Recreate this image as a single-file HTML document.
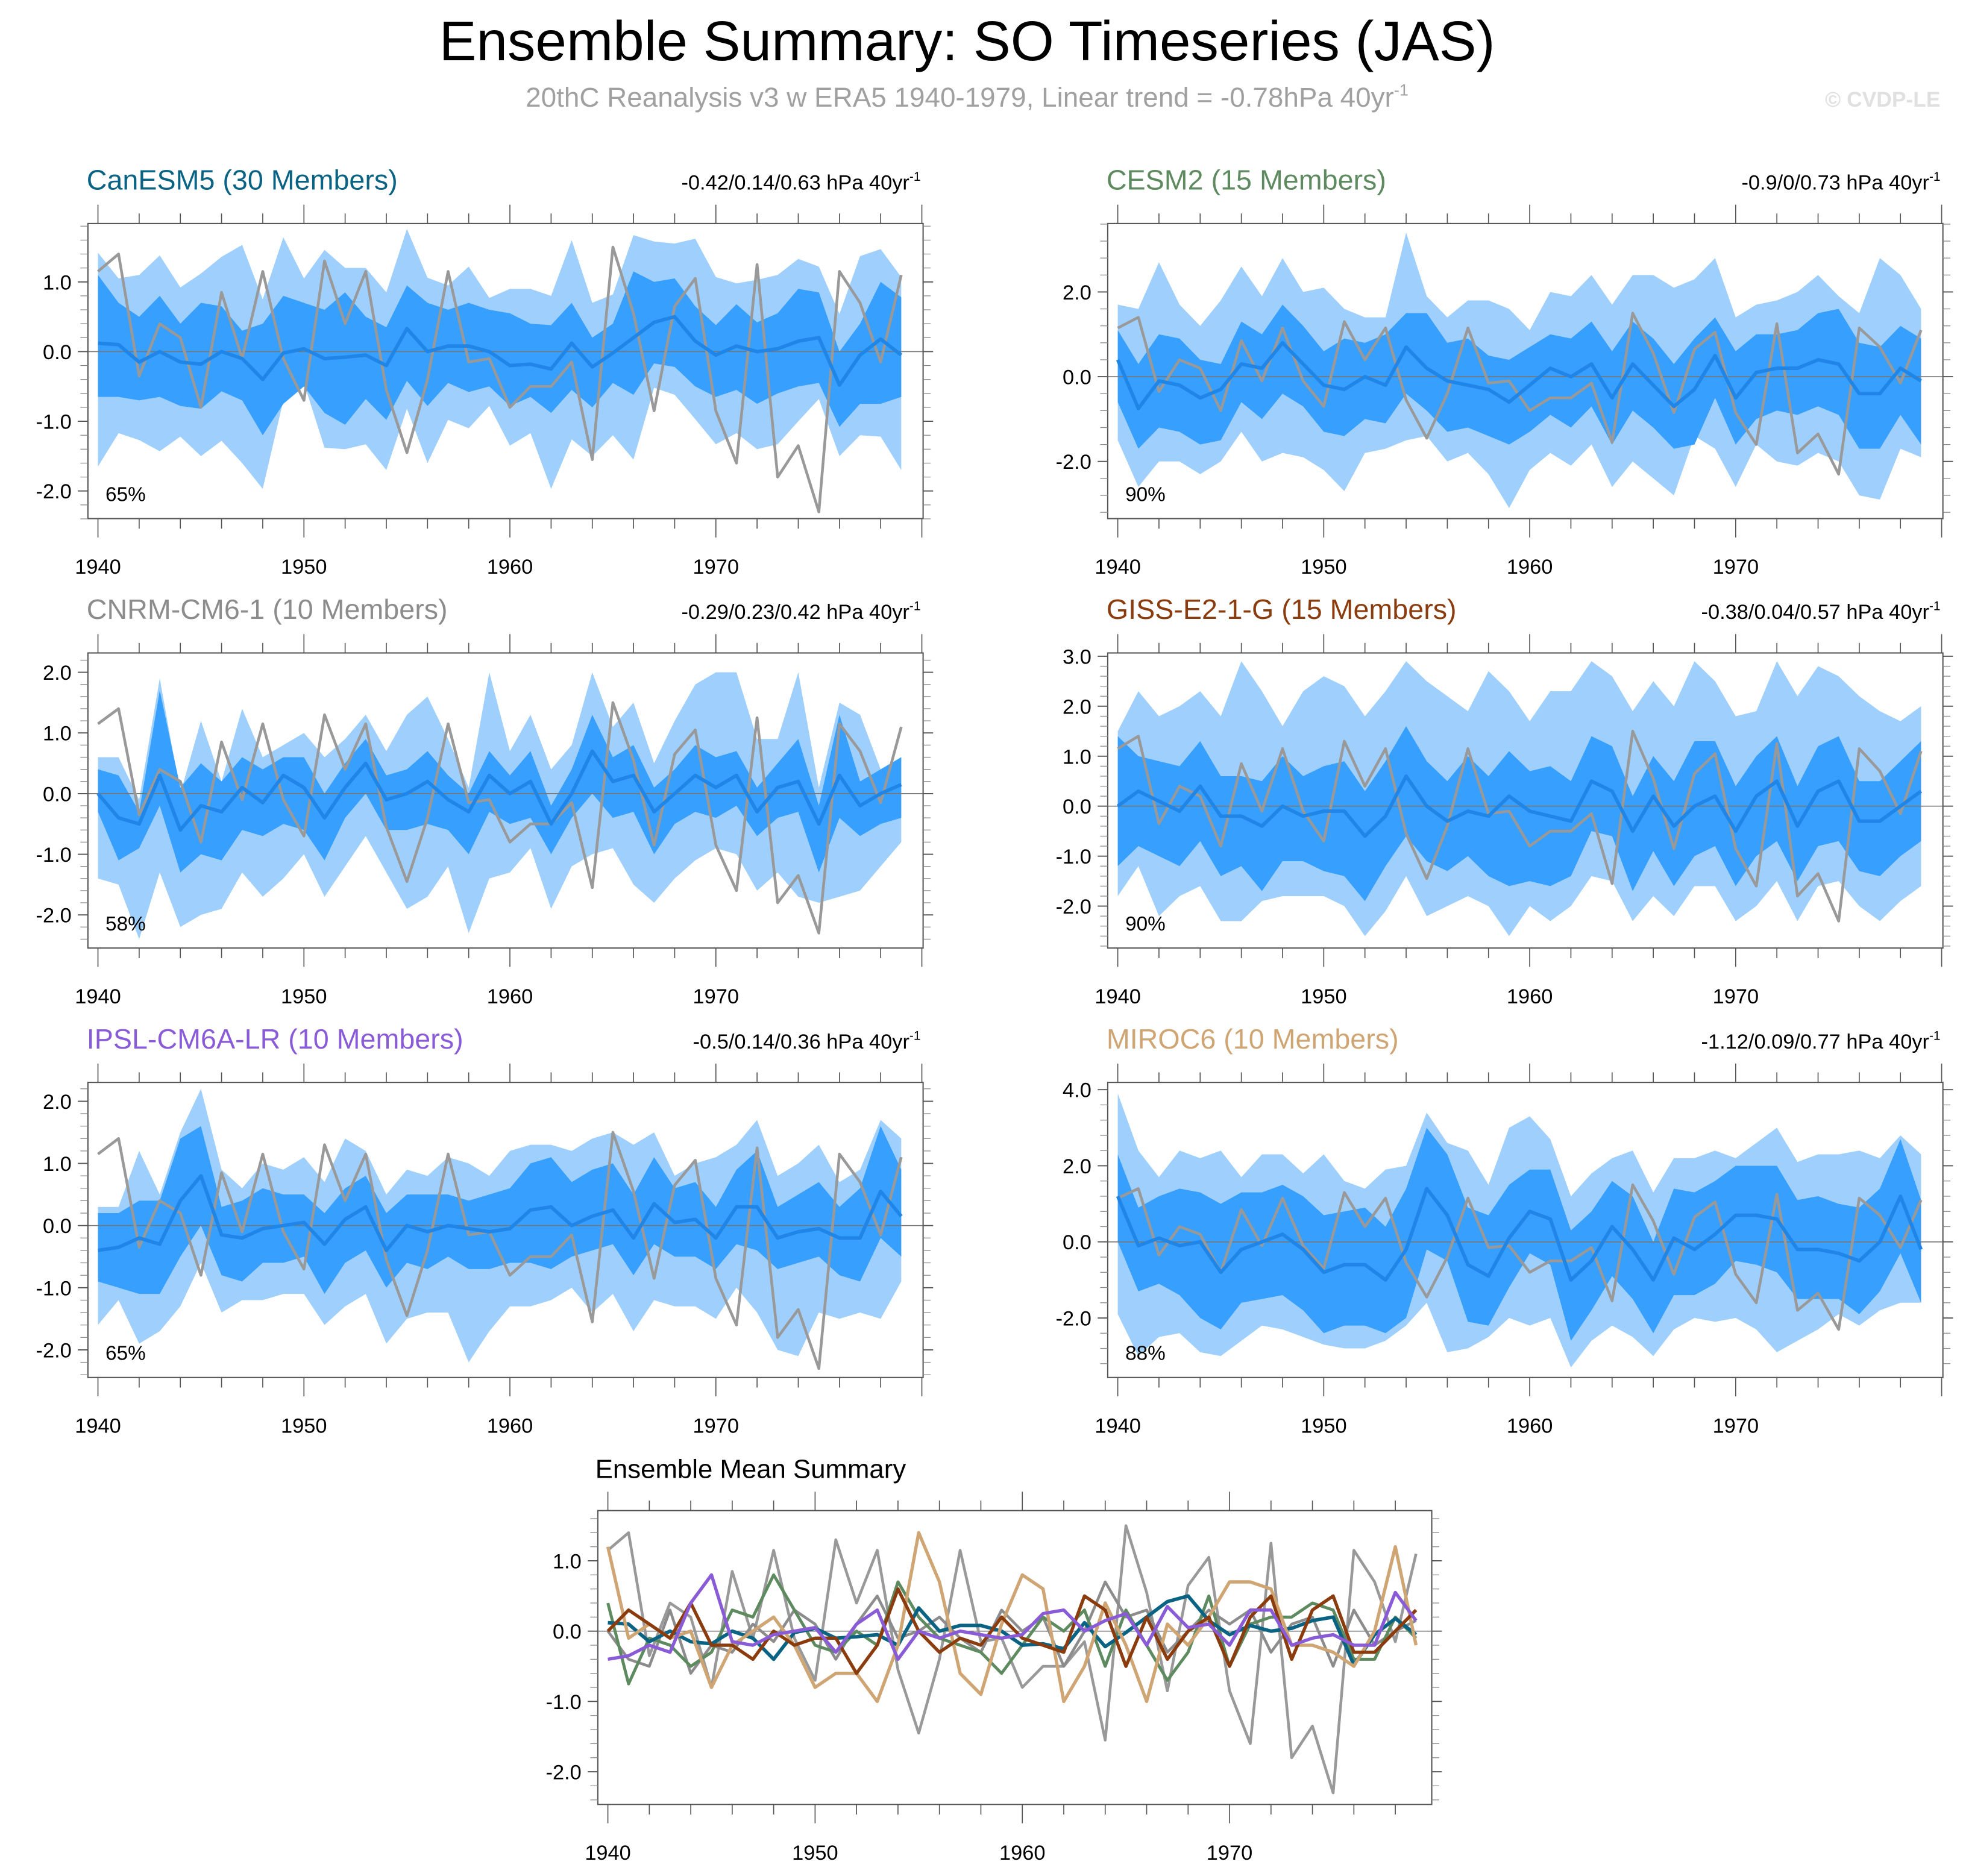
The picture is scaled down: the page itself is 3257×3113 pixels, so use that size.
<!DOCTYPE html>
<html><head><meta charset="utf-8"><style>
html,body{margin:0;padding:0;background:#fff;}
svg{display:block;font-family:"Liberation Sans",sans-serif;}
</style></head><body>
<svg id="chart" width="3257" height="3113" viewBox="0 0 1563 1494" preserveAspectRatio="none" xmlns="http://www.w3.org/2000/svg">
<text x="770" y="48" font-size="44.5" text-anchor="middle" fill="#000">Ensemble Summary: SO Timeseries (JAS)</text>
<text x="770" y="85" font-size="22" text-anchor="middle" fill="#a0a0a0">20thC Reanalysis v3 w ERA5 1940-1979, Linear trend = -0.78hPa 40yr<tspan dy="-9" font-size="13">-1</tspan></text>
<text x="1545" y="85" font-size="17" font-weight="bold" text-anchor="end" fill="#e0e0e0">© CVDP-LE</text>
<g id="plots"></g>
</svg>
<script>
const years = Array.from({length:40},(_,i)=>1940+i);
const obs = [1.15,1.4,-0.35,0.4,0.2,-0.8,0.85,-0.1,1.15,-0.1,-0.7,1.3,0.4,1.15,-0.55,-1.45,-0.4,1.15,-0.15,-0.1,-0.8,-0.5,-0.5,-0.15,-1.55,1.5,0.55,-0.85,0.65,1.05,-0.85,-1.6,1.25,-1.8,-1.35,-2.3,1.15,0.7,-0.15,1.1];

const canMean=[0.12,0.1,-0.15,0,-0.15,-0.18,0,-0.1,-0.4,-0.02,0.04,-0.1,-0.08,-0.05,-0.2,0.33,0,0.08,0.08,0,-0.2,-0.18,-0.25,0.12,-0.22,-0.02,0.2,0.42,0.5,0.15,-0.05,0.08,0,0.04,0.15,0.2,-0.48,-0.05,0.18,-0.05];
const canInHi=[1.1,0.7,0.5,0.8,0.4,0.7,0.65,0.3,0.4,0.8,0.7,0.6,0.85,0.5,0.35,0.95,0.7,0.6,0.7,0.6,0.55,0.4,0.38,0.7,0.2,0.4,1.15,1.0,1.05,0.65,0.38,0.68,0.42,0.55,0.9,0.85,0,0.4,1.0,0.78];
const canInLo=[-0.65,-0.65,-0.7,-0.65,-0.78,-0.82,-0.57,-0.7,-1.2,-0.75,-0.5,-0.88,-1.05,-0.68,-0.98,-0.42,-0.78,-0.45,-0.58,-0.5,-0.78,-0.65,-0.88,-0.55,-0.8,-0.45,-0.62,-0.17,-0.22,-0.5,-0.65,-0.55,-0.75,-0.6,-0.5,-0.45,-1.08,-0.75,-0.75,-0.65];
const canOutHi=[1.42,1.05,1.1,1.38,0.92,1.12,1.36,1.53,0.75,1.64,1.05,1.46,1.2,1.2,0.85,1.76,1.06,0.95,1.22,0.77,0.9,0.9,0.8,1.6,0.7,0.82,1.67,1.58,1.55,1.62,1.07,0.98,1.03,1.1,1.33,1.22,0.54,1.37,1.47,1.07];
const canOutLo=[-1.65,-1.17,-1.27,-1.43,-1.22,-1.5,-1.28,-1.6,-1.97,-0.7,-0.45,-1.38,-1.4,-1.33,-1.7,-0.82,-1.6,-0.98,-1.1,-0.78,-1.35,-1.17,-1.97,-1.26,-1.5,-1.2,-1.55,-0.52,-0.62,-0.97,-1.33,-1.17,-1.4,-1.33,-1.0,-0.68,-1.5,-1.2,-1.22,-1.7];

const cesMean=[0.4,-0.75,-0.1,-0.2,-0.5,-0.3,0.3,0.2,0.8,0.3,-0.2,-0.3,0,-0.2,0.7,0.2,-0.1,-0.2,-0.3,-0.6,-0.2,0.2,0,0.3,-0.5,0.3,-0.2,-0.7,-0.3,0.5,-0.5,0.1,0.2,0.2,0.4,0.3,-0.4,-0.4,0.2,-0.1];
const cesInHi=[1.1,0.3,1.0,0.9,0.4,0.3,1.3,1.0,1.7,1.2,0.6,0.9,0.8,1.0,1.5,1.5,0.8,0.9,0.5,0.4,0.7,1.0,0.9,1.3,0.6,1.3,0.9,0.3,0.9,1.4,0.6,1.0,1.0,1.1,1.5,1.6,0.8,0.7,1.2,0.9];
const cesInLo=[-0.6,-1.7,-1.2,-1.3,-1.6,-1.5,-0.6,-1.0,-0.4,-0.7,-1.3,-1.4,-1.0,-1.1,-0.4,-0.8,-1.3,-1.2,-1.4,-1.6,-1.3,-0.9,-1.2,-0.7,-1.6,-0.8,-1.2,-1.7,-1.6,-0.5,-1.6,-1.0,-0.8,-0.9,-0.7,-0.9,-1.7,-1.7,-0.9,-1.6];
const cesOutHi=[1.7,1.6,2.7,1.7,1.2,1.8,2.6,1.9,2.8,2.0,2.1,1.6,1.4,1.4,3.4,1.9,1.4,1.8,1.8,1.6,1.1,2.0,1.9,2.4,1.7,2.4,2.4,2.1,2.3,2.8,1.4,1.7,1.8,2.0,2.4,1.9,1.5,2.8,2.4,1.6];
const cesOutLo=[-1.5,-2.6,-2.0,-2.0,-2.3,-2.0,-1.3,-2.0,-1.8,-1.9,-2.2,-2.7,-1.8,-1.7,-1.5,-1.4,-2.0,-1.8,-2.3,-3.1,-2.2,-1.8,-2.1,-1.6,-2.6,-2.0,-2.4,-2.8,-1.4,-1.7,-2.6,-1.6,-2.0,-2.1,-1.8,-2.0,-2.8,-2.9,-1.7,-1.9];

const cnrMean=[0,-0.4,-0.5,0.3,-0.6,-0.2,-0.3,0.1,-0.15,0.3,0.1,-0.4,0.1,0.5,-0.1,0,0.2,-0.1,-0.3,0.3,0,0.2,-0.5,0,0.7,0.2,0.3,-0.3,0,0.3,0.1,0.3,-0.3,0.1,0.2,-0.5,0.3,-0.2,0,0.15];
const cnrInHi=[0.4,0.3,-0.3,1.7,0.1,0.5,0.2,0.6,0.4,0.6,0.6,0.0,0.5,0.9,0.3,0.4,0.7,0.3,0,0.7,0.3,0.7,-0.2,0.4,1.3,0.6,0.8,0.1,0.4,0.8,0.6,0.7,0.1,0.5,0.9,-0.2,1.3,0.2,0.4,0.6];
const cnrInLo=[-0.3,-1.1,-0.9,-0.2,-1.3,-1.0,-1.1,-0.6,-0.7,-0.5,-0.6,-1.1,-0.4,0,-0.6,-0.6,-0.5,-0.6,-1.0,-0.3,-0.5,-0.4,-1.0,-0.4,0,-0.4,-0.3,-1.0,-0.5,-0.3,-0.4,-0.2,-0.7,-0.4,-0.3,-1.3,-0.4,-0.7,-0.5,-0.4];
const cnrOutHi=[0.6,0.6,-0.1,1.9,0,1.2,0.2,1.4,0.6,0.8,1.0,0.6,0.9,1.3,0.7,1.3,1.6,0.9,0.1,2.0,0.7,1.3,0.4,0.8,2.0,1.1,1.5,0.5,1.2,1.8,2.0,2.0,0.9,0.9,2.0,0.1,1.5,1.3,0.4,0.6];
const cnrOutLo=[-1.4,-1.5,-2.4,-1.3,-2.2,-2.0,-1.9,-1.3,-1.7,-1.4,-1.0,-1.7,-1.2,-0.7,-1.3,-1.9,-1.7,-1.2,-2.3,-1.4,-1.3,-0.9,-1.9,-1.2,-1.0,-0.9,-1.5,-1.8,-1.4,-1.1,-0.9,-1.0,-1.6,-1.3,-1.7,-1.8,-1.7,-1.6,-1.2,-0.8];

const gisMean=[0,0.3,0.1,-0.1,0.4,-0.2,-0.2,-0.4,0,-0.2,-0.1,-0.1,-0.6,-0.2,0.6,0,-0.3,-0.1,-0.2,0.2,-0.1,-0.2,-0.3,0.5,0.3,-0.5,0.2,-0.4,0,0.2,-0.5,0.2,0.5,-0.4,0.3,0.5,-0.3,-0.3,0,0.3];
const gisInHi=[1.4,1.0,0.9,0.8,1.3,0.6,0.6,0.5,1.0,0.6,0.8,0.9,0.3,0.9,1.6,0.9,0.5,1.0,0.6,1.1,0.7,0.8,0.5,1.4,1.2,0.2,1.0,0.5,1.3,1.3,0.4,1.0,1.4,0.4,1.2,1.4,0.5,0.5,0.9,1.3];
const gisInLo=[-1.2,-0.8,-1.0,-1.2,-0.7,-1.4,-1.2,-1.7,-1.1,-1.1,-1.3,-1.4,-1.9,-1.2,-0.6,-1.1,-1.3,-1.0,-1.4,-1.6,-1.5,-1.6,-1.4,-0.5,-0.6,-1.7,-0.9,-1.6,-1.0,-0.8,-1.6,-1.0,-0.7,-1.5,-0.8,-0.7,-1.3,-1.4,-1.0,-0.7];
const gisOutHi=[1.5,2.3,1.8,2.0,2.3,1.8,2.9,2.3,1.6,2.3,2.6,2.4,1.8,2.3,2.9,2.5,2.2,1.9,2.7,2.3,1.7,2.3,2.3,2.9,2.6,1.9,2.5,2.0,2.9,2.5,1.8,1.9,2.9,2.2,2.8,2.6,2.2,1.9,1.7,2.0];
const gisOutLo=[-1.8,-1.2,-2.2,-1.8,-1.6,-2.3,-2.3,-1.9,-1.8,-1.8,-1.8,-2.0,-2.6,-2.1,-1.4,-2.2,-2.0,-1.8,-2.0,-2.6,-2.0,-2.3,-2.0,-1.4,-1.5,-2.3,-1.8,-2.2,-1.6,-1.6,-2.3,-2.0,-1.5,-2.3,-1.6,-1.5,-2.0,-2.3,-1.9,-1.6];

const ipsMean=[-0.4,-0.35,-0.2,-0.3,0.4,0.8,-0.15,-0.2,-0.05,0,0.05,-0.3,0.1,0.3,-0.4,0,-0.1,0,-0.05,-0.1,-0.05,0.25,0.3,0,0.15,0.25,-0.2,0.35,0.05,0.1,-0.2,0.3,0.3,-0.2,-0.1,-0.05,-0.2,-0.2,0.55,0.15];
const ipsInHi=[0.2,0.2,0.4,0.4,1.4,1.6,0.3,0.4,0.6,0.5,0.5,0.2,0.6,0.8,0.2,0.5,0.5,0.5,0.4,0.5,0.6,1.0,1.1,0.7,0.9,1.0,0.5,1.1,0.6,0.7,0.3,0.9,1.2,0.3,0.5,0.7,0.3,0.6,1.6,0.9];
const ipsInLo=[-0.9,-1.0,-1.1,-1.1,-0.5,0,-0.8,-0.9,-0.6,-0.6,-0.5,-1.1,-0.6,-0.4,-1.0,-0.6,-0.7,-0.5,-0.7,-0.7,-0.6,-0.6,-0.7,-0.5,-0.4,-0.3,-0.8,-0.3,-0.5,-0.5,-0.7,-0.3,-0.4,-0.7,-0.6,-0.5,-0.8,-0.9,-0.2,-0.5];
const ipsOutHi=[0.3,0.3,1.2,0.5,1.5,2.2,0.9,0.6,1.0,0.9,1.1,0.7,1.4,1.2,0.5,0.9,0.8,1.1,1.0,0.8,1.2,1.3,1.3,1.2,1.4,1.5,1.3,1.5,0.8,1.0,1.1,1.3,1.7,0.8,1.0,1.3,0.7,0.9,1.7,1.4];
const ipsOutLo=[-1.6,-1.2,-1.9,-1.7,-1.3,-0.6,-1.4,-1.2,-1.2,-1.1,-1.1,-1.6,-1.3,-1.1,-1.9,-1.5,-1.4,-1.4,-2.2,-1.7,-1.3,-1.3,-1.2,-1.0,-1.4,-1.1,-1.7,-1.2,-1.3,-1.3,-1.5,-1.0,-1.4,-2.0,-2.1,-1.4,-1.5,-1.4,-1.5,-0.9];

const mirMean=[1.2,-0.1,0.1,-0.1,0,-0.8,-0.2,0,0.2,-0.2,-0.8,-0.6,-0.6,-1,-0.2,1.4,0.7,-0.6,-0.9,0.1,0.8,0.6,-1.0,-0.5,0.4,-0.2,-1.0,0.1,-0.2,0.2,0.7,0.7,0.6,-0.2,-0.2,-0.3,-0.5,0,1.2,-0.2];
const mirInHi=[2.3,0.9,1.2,1.4,1.3,1.0,1.3,1.3,1.5,1.2,0.7,0.8,0.9,0.4,1.4,3.0,2.3,0.9,0.7,1.5,1.9,1.9,0.3,0.8,1.6,1.2,0,1.4,1.3,1.6,2.0,2.0,2.0,1.1,1.2,1.0,0.9,1.4,2.7,1.1];
const mirInLo=[0,-1.3,-1.1,-1.4,-2.0,-2.3,-1.6,-1.5,-1.4,-1.8,-2.4,-2.2,-2.2,-2.4,-2.0,-0.2,-0.5,-2.1,-2.2,-1.2,-0.3,-0.6,-2.6,-1.8,-0.9,-1.5,-2.4,-1.4,-1.4,-1.1,-0.5,-0.6,-0.8,-1.5,-1.5,-1.5,-1.9,-1.3,-0.3,-1.6];
const mirOutHi=[3.9,2.4,1.7,2.4,2.2,2.4,1.7,2.3,2.3,1.8,2.3,1.6,1.4,1.9,2.0,3.4,2.6,2.4,1.5,3.0,3.3,2.7,1.2,1.8,2.2,2.4,1.3,2.2,2.2,2.4,2.2,2.6,3.0,2.1,2.3,2.3,2.4,2.2,2.8,2.3];
const mirOutLo=[-1.9,-3.0,-2.5,-2.4,-2.9,-3.0,-2.6,-2.2,-2.3,-2.5,-2.7,-2.8,-2.8,-2.6,-2.2,-1.6,-2.9,-2.8,-2.5,-2.0,-2.2,-2.0,-3.3,-2.6,-2.2,-2.5,-3.0,-2.3,-2.0,-2.1,-2.0,-2.3,-2.9,-2.6,-2.3,-1.9,-2.2,-1.8,-1.6,-1.6];

const xTickLabels=[1940,1950,1960,1970];
const yTicks1=[1.0,0.0,-1.0,-2.0];
const yTicks2=[2.0,0.0,-2.0];
const yTicks3=[2.0,1.0,0.0,-1.0,-2.0];
const yTicks4=[3.0,2.0,1.0,0.0,-1.0,-2.0];
const yTicks5=[2.0,1.0,0.0,-1.0,-2.0];
const yTicks6=[4.0,2.0,0.0,-2.0];
const yTicksM=[1.0,0.0,-1.0,-2.0];

const NS='http://www.w3.org/2000/svg';
const root=document.getElementById('plots');
function mk(tag,attrs,parent){const e=document.createElementNS(NS,tag);for(const k in attrs)e.setAttribute(k,attrs[k]);(parent||root).appendChild(e);return e;}

const panels=[
 {name:'canesm5',title:'CanESM5 (30 Members)',col:'#0b6384',trend:'-0.42/0.14/0.63 hPa 40yr',pct:'65%',bx:70,by:178,y0:280,ys:55.5,ymin:-2.6,ymax:1.8,minor:0.2,ticks:yTicks1,m:canMean,ih:canInHi,il:canInLo,oh:canOutHi,ol:canOutLo},
 {name:'cesm2',title:'CESM2 (15 Members)',col:'#5e8a60',trend:'-0.9/0/0.73 hPa 40yr',pct:'90%',bx:882,by:178,y0:300,ys:33.75,ymin:-3.4,ymax:3.6,minor:0.4,ticks:yTicks2,m:cesMean,ih:cesInHi,il:cesInLo,oh:cesOutHi,ol:cesOutLo},
 {name:'cnrm-cm6-1',title:'CNRM-CM6-1 (10 Members)',col:'#8c8c8c',trend:'-0.29/0.23/0.42 hPa 40yr',pct:'58%',bx:70,by:520,y0:632,ys:48.3,ymin:-2.6,ymax:2.4,minor:0.2,ticks:yTicks3,m:cnrMean,ih:cnrInHi,il:cnrInLo,oh:cnrOutHi,ol:cnrOutLo},
 {name:'giss-e2-1-g',title:'GISS-E2-1-G (15 Members)',col:'#8b3c0e',trend:'-0.38/0.04/0.57 hPa 40yr',pct:'90%',bx:882,by:520,y0:642,ys:39.8,ymin:-2.8,ymax:3.0,minor:0.2,ticks:yTicks4,m:gisMean,ih:gisInHi,il:gisInLo,oh:gisOutHi,ol:gisOutLo},
 {name:'ipsl-cm6a-lr',title:'IPSL-CM6A-LR (10 Members)',col:'#8a5bd6',trend:'-0.5/0.14/0.36 hPa 40yr',pct:'65%',bx:70,by:862,y0:976,ys:49.5,ymin:-2.4,ymax:2.2,minor:0.2,ticks:yTicks5,m:ipsMean,ih:ipsInHi,il:ipsInLo,oh:ipsOutHi,ol:ipsOutLo},
 {name:'miroc6',title:'MIROC6 (10 Members)',col:'#cfa574',trend:'-1.12/0.09/0.77 hPa 40yr',pct:'88%',bx:882,by:862,y0:989,ys:30.3,ymin:-3.6,ymax:4.0,minor:0.4,ticks:yTicks6,m:mirMean,ih:mirInHi,il:mirInLo,oh:mirOutHi,ol:mirOutLo},
];
const W=665,H=235;

function axes(g,bx,by,w,h,x,y,y0,ticks,minor,ymin,ymax,fs){
  const box=mk('rect',{x:bx,y:by,width:w,height:h,fill:'none',stroke:'#555','stroke-width':1},g);
  
  
  for(let yr=1940;yr<=1980;yr+=2){const px=x(yr);if(px>bx+w)break;const maj=yr%10===0;const L=maj?15:8;
    mk('line',{x1:px,x2:px,y1:by+h,y2:by+h+L,stroke:'#555','stroke-width':0.8},g);
    mk('line',{x1:px,x2:px,y1:by,y2:by-L,stroke:'#555','stroke-width':0.8},g);}
  const n0=Math.ceil(ymin/minor-1e-6),n1=Math.floor(ymax/minor+1e-6);
  for(let k=n0;k<=n1;k++){const v=k*minor;const py=y(v);if(py<by-0.5||py>by+h+0.5)continue;
    mk('line',{x1:bx,x2:bx-6,y1:py,y2:py,stroke:'#888','stroke-width':0.6},g);
    mk('line',{x1:bx+w,x2:bx+w+6,y1:py,y2:py,stroke:'#888','stroke-width':0.6},g);}
  ticks.forEach(v=>{const py=y(v);
    mk('line',{x1:bx,x2:bx-8,y1:py,y2:py,stroke:'#555','stroke-width':0.9},g);
    mk('line',{x1:bx+w,x2:bx+w+8,y1:py,y2:py,stroke:'#555','stroke-width':0.9},g);
    const t=mk('text',{x:bx-13,y:py+6,'font-size':fs,'text-anchor':'end',fill:'#000'},g);t.textContent=v.toFixed(1);
    
    });
  xTickLabels.forEach(yr=>{const t=mk('text',{x:x(yr),y:by+h+44,'font-size':fs,'text-anchor':'middle',fill:'#000'},g);t.textContent=yr;
    
    });
}
function band(g,x,y,hi,lo,fill,nm){
  let d='M'+years.map((yr,i)=>x(yr)+','+y(hi[i])).join('L');
  for(let i=39;i>=0;i--)d+='L'+x(years[i])+','+y(lo[i]);
  const p=mk('path',{d:d+'Z',fill:fill},g);
  
  
}
function line(g,x,y,vals,col,w,nm){
  const p=mk('polyline',{points:years.map((yr,i)=>x(yr)+','+y(vals[i])).join(' '),fill:'none',stroke:col,'stroke-width':w,'stroke-linejoin':'round'},g);
  
  
}

panels.forEach(P=>{
  const g=mk('g',{});
  
  
  const x=yr=>P.bx+8+(yr-1940)*16.4;
  const y=v=>P.y0-v*P.ys;
  band(g,x,y,P.oh,P.ol,'#9fd0fd','outer-spread-band');
  band(g,x,y,P.ih,P.il,'#379ffd','inner-spread-band');
  const z=mk('line',{x1:P.bx,x2:P.bx+W,y1:y(0),y2:y(0),stroke:'#777','stroke-width':0.8},g);
  
  
  line(g,x,y,obs,'#999999',2.2,'observed-line');
  line(g,x,y,P.m,'#1f86e8',2.8,'ensemble-mean-line');
  axes(g,P.bx,P.by,W,H,x,y,P.y0,P.ticks,P.minor,P.ymin,P.ymax,16.5);
  const t=mk('text',{x:P.bx-1,y:P.by-27,'font-size':22.4,fill:P.col},g);t.textContent=P.title;
  
  
  const tr=mk('text',{x:P.bx+W-2,y:P.by-27,'font-size':16.5,'text-anchor':'end',fill:'#000'},g);tr.textContent=P.trend;
  const sp=mk('tspan',{dy:-7,'font-size':10},tr);sp.textContent='-1';
  
  
  const pc=mk('text',{x:P.bx+14,y:P.by+H-14,'font-size':16,fill:'#000'},g);pc.textContent=P.pct;
  
  
});

(function(){
  const g=mk('g',{});
  
  
  const bx=476,by=1203,w=664,h=234;
  const x=yr=>bx+8+(yr-1940)*16.5;
  const y=v=>1299-v*56;
  const z=mk('line',{x1:bx,x2:bx+w,y1:y(0),y2:y(0),stroke:'#777','stroke-width':0.8},g);
  
  
  line(g,x,y,obs,'#999999',2.2,'observed-line');
  line(g,x,y,cnrMean,'#8c8c8c',2.2,'cnrm-mean-line');
  line(g,x,y,cesMean,'#5e8a60',2.4,'cesm2-mean-line');
  line(g,x,y,canMean,'#0b6384',2.8,'canesm5-mean-line');
  line(g,x,y,mirMean,'#cfa574',2.6,'miroc6-mean-line');
  line(g,x,y,gisMean,'#8b3c0e',2.6,'giss-mean-line');
  line(g,x,y,ipsMean,'#8a5bd6',2.6,'ipsl-mean-line');
  axes(g,bx,by,w,h,x,y,1299,yTicksM,0.2,-2.6,1.8,16.5);
  const t=mk('text',{x:bx-2,y:1177,'font-size':21,fill:'#000'},g);t.textContent='Ensemble Mean Summary';
  
  
})();
</script>
</body></html>
